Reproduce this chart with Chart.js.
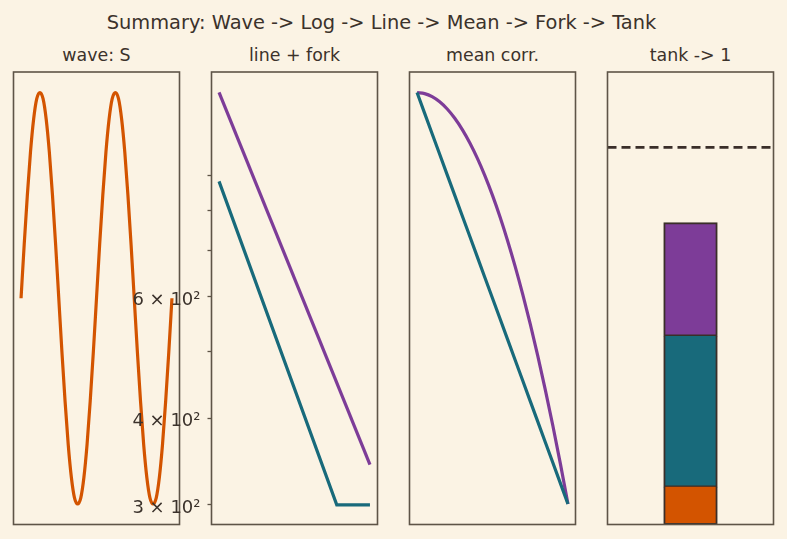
<!DOCTYPE html>
<html>
<head>
<meta charset="utf-8">
<script src="https://cdn.jsdelivr.net/npm/chart.js@4.4.1/dist/chart.umd.min.js"></script>
<style>
  html, body { margin: 0; padding: 0; background: #FBF3E4; }
  body { width: 787px; height: 539px; position: relative; overflow: hidden;
         font-family: "DejaVu Sans", sans-serif; color: #3b322b; }
  .title { position: absolute; white-space: nowrap; transform: translateX(-50%); line-height: 1; }
  canvas { position: absolute; }
</style>
</head>
<body>
<div class="title" style="left:381.5px; top:13px; font-size:19.4px;">Summary: Wave -&gt; Log -&gt; Line -&gt; Mean -&gt; Fork -&gt; Tank</div>
<div class="title" style="left:96.5px; top:47px; font-size:17.4px;">wave: S</div>
<div class="title" style="left:294.5px; top:47px; font-size:17.4px;">line + fork</div>
<div class="title" style="left:492.5px; top:47px; font-size:17.4px;">mean corr.</div>
<div class="title" style="left:690.5px; top:47px; font-size:17.4px;">tank -&gt; 1</div>

<canvas id="wave" width="191" height="477" style="left:1px; top:60px;"></canvas>
<canvas id="line" width="280" height="489" style="left:110px; top:54px;"></canvas>
<canvas id="mean" width="191" height="477" style="left:397px; top:60px;"></canvas>
<canvas id="tank" width="191" height="477" style="left:595px; top:60px;"></canvas>

<script>
// --- data ---
const waveValues = [
  0, 0.26, 0.5, 0.71, 0.87, 0.97, 1, 0.97, 0.87, 0.71, 0.5, 0.26,
  0, -0.26, -0.5, -0.71, -0.87, -0.97, -1, -0.97, -0.87, -0.71, -0.5, -0.26,
  0, 0.26, 0.5, 0.71, 0.87, 0.97, 1, 0.97, 0.87, 0.71, 0.5, 0.26,
  0, -0.26, -0.5, -0.71, -0.87, -0.97, -1, -0.97, -0.87, -0.71, -0.5, -0.26, 0
];

const lineX = [0, 1];
const lineValues = [1187, 343];
const forkX = [0, 0.78, 1];
const forkValues = [882, 300, 300];
const logTicks = [300, 400, 500, 600, 700, 800, 900];
const logLabels = ["3 × 10²", "4 × 10²", "", "6 × 10²", "", "", ""];

const meanX = [0, 0.05, 0.1, 0.15, 0.2, 0.25, 0.3, 0.35, 0.4, 0.45, 0.5,
               0.55, 0.6, 0.65, 0.7, 0.75, 0.8, 0.85, 0.9, 0.95, 1];
const meanStraight = [1, 0.95, 0.9, 0.85, 0.8, 0.75, 0.7, 0.65, 0.6, 0.55, 0.5,
                      0.45, 0.4, 0.35, 0.3, 0.25, 0.2, 0.15, 0.1, 0.05, 0];
const meanCorr = [1, 0.9975, 0.99, 0.9775, 0.96, 0.9375, 0.91, 0.8775, 0.84, 0.7975, 0.75,
                  0.6975, 0.64, 0.5775, 0.51, 0.4375, 0.36, 0.2775, 0.19, 0.0975, 0];

const tankLabels = ["tank"];
const tankBase = [0.1];
const tankMid = [0.4];
const tankTop = [0.3];
const tankTarget = 1;

// --- styles ---
const ORANGE = "#D35400";
const TEAL = "#186A7B";
const PURPLE = "#7D3C98";
const FRAME = "#5e5447";
const EDGE = "#3a2e29";
const TEXT = "#3b322b";
const LW = 3.2;

const frame = {
  id: "frame",
  afterDraw(chart) {
    const { ctx, chartArea: a } = chart;
    ctx.save();
    ctx.strokeStyle = FRAME;
    ctx.lineWidth = 1.6;
    ctx.strokeRect(a.left, a.top, a.right - a.left, a.bottom - a.top);
    ctx.restore();
  },
};

const targetLine = {
  id: "targetLine",
  afterDatasetsDraw(chart) {
    const { ctx, chartArea: a, scales } = chart;
    const y = scales.y.getPixelForValue(tankTarget);
    ctx.save();
    ctx.strokeStyle = EDGE;
    ctx.lineWidth = 2.8;
    ctx.setLineDash([9, 5]);
    ctx.beginPath();
    ctx.moveTo(a.left, y);
    ctx.lineTo(a.right, y);
    ctx.stroke();
    ctx.restore();
  },
};

function baseOptions(padding) {
  return {
    responsive: false,
    animation: false,
    devicePixelRatio: 1,
    layout: { padding: padding },
    plugins: { legend: { display: false }, tooltip: { enabled: false } },
    elements: { point: { radius: 0 } },
  };
}

const pad = { left: 12.5, right: 12.5, top: 12, bottom: 12.5 };

function xy(xs, ys) {
  return ys.map((v, i) => ({ x: xs[i], y: v }));
}

// wave
new Chart(document.getElementById("wave"), {
  type: "line",
  data: {
    datasets: [{
      data: waveValues.map((v, i) => ({ x: i, y: v })),
      borderColor: ORANGE,
      borderWidth: LW,
      cubicInterpolationMode: "monotone",
    }],
  },
  options: {
    ...baseOptions(pad),
    scales: {
      x: { type: "linear", display: false, min: -2.4, max: 50.4 },
      y: { display: false, min: -1.1, max: 1.1 },
    },
  },
  plugins: [frame],
});

// line + fork (log y)
new Chart(document.getElementById("line"), {
  type: "line",
  data: {
    datasets: [
      { data: xy(lineX, lineValues), borderColor: PURPLE, borderWidth: LW },
      { data: xy(forkX, forkValues), borderColor: TEAL, borderWidth: LW },
    ],
  },
  options: {
    ...baseOptions({ left: 0, right: 12.5, top: 18, bottom: 18.5 }),
    scales: {
      x: { type: "linear", display: false, min: -0.05, max: 1.05 },
      y: {
        type: "logarithmic",
        min: 281,
        max: 1270,
        afterBuildTicks: (s) => { s.ticks = logTicks.map((v) => ({ value: v })); },
        afterFit: (s) => { s.width = 101.5; },
        border: { display: false },
        grid: { drawOnChartArea: false, drawTicks: true, tickLength: 4, tickWidth: 1.3, tickColor: FRAME },
        ticks: {
          callback: (v, i) => logLabels[i],
          font: { family: "DejaVu Sans", size: 18 },
          color: TEXT,
          padding: 7,
          labelOffset: 3,
        },
      },
    },
  },
  plugins: [frame],
});

// mean corr.
new Chart(document.getElementById("mean"), {
  type: "line",
  data: {
    datasets: [
      { data: xy(meanX, meanStraight), borderColor: TEAL, borderWidth: LW },
      { data: xy(meanX, meanCorr), borderColor: PURPLE, borderWidth: LW, cubicInterpolationMode: "monotone" },
    ],
  },
  options: {
    ...baseOptions(pad),
    scales: {
      x: { type: "linear", display: false, min: -0.05, max: 1.05 },
      y: { display: false, min: -0.05, max: 1.05 },
    },
  },
  plugins: [frame],
});

// tank -> 1: each upper segment draws the join below it, slight inflate hides seams
new Chart(document.getElementById("tank"), {
  type: "bar",
  data: {
    labels: tankLabels,
    datasets: [
      { data: tankBase, backgroundColor: ORANGE, borderColor: EDGE,
        borderWidth: { top: 0, bottom: 2, left: 2, right: 2 } },
      { data: tankMid, backgroundColor: TEAL, borderColor: EDGE,
        borderWidth: { top: 0, bottom: 2, left: 2, right: 2 } },
      { data: tankTop, backgroundColor: PURPLE, borderColor: EDGE,
        borderWidth: { top: 2, bottom: 2, left: 2, right: 2 } },
    ],
  },
  options: {
    ...baseOptions(pad),
    datasets: { bar: { barPercentage: 0.32, categoryPercentage: 1, borderSkipped: false, inflateAmount: 0.6 } },
    scales: {
      x: { display: false, stacked: true },
      y: { display: false, stacked: true, min: 0, max: 1.2 },
    },
  },
  plugins: [targetLine, frame],
});
</script>
</body>
</html>
